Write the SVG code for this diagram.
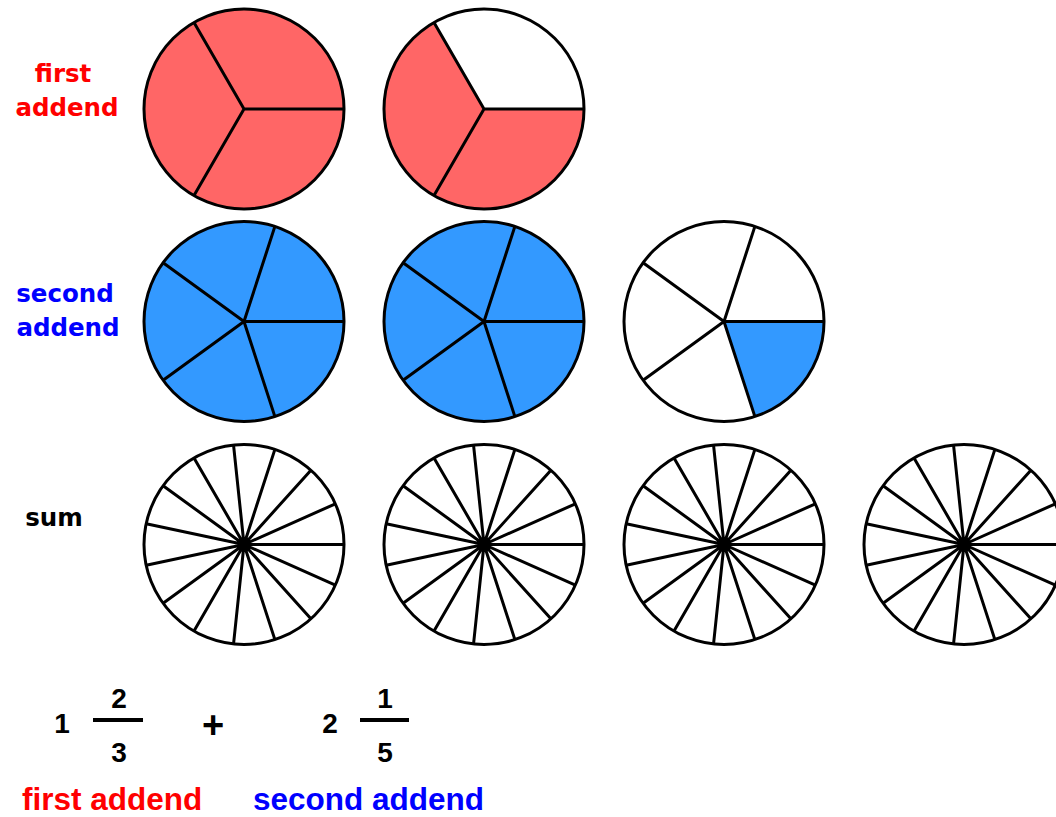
<svg xmlns="http://www.w3.org/2000/svg" xmlns:xlink="http://www.w3.org/1999/xlink" width="1056" height="817" viewBox="0 0 1056 817">
<style>
.rim{stroke:#000;stroke-width:3}
.sp{stroke:#000;stroke-width:3;fill:none;stroke-linecap:butt}
.lbl{font-family:"DejaVu Sans",Verdana,sans-serif;font-weight:bold;font-size:24.5px;text-anchor:middle}
.num{font-family:"Liberation Sans",Arial,sans-serif;font-weight:bold;font-size:28px;text-anchor:middle;fill:#000}
.plus{font-family:"Liberation Sans",Arial,sans-serif;font-weight:bold;font-size:38px;text-anchor:middle;fill:#000}
.cap{font-family:"Liberation Sans",Arial,sans-serif;font-weight:bold;font-size:31.5px}
.red{fill:#FF0000}
.blue{fill:#0000FF}
</style>
<defs>
<g id="thirds">
<path class="sp" d="M0,0 L100,0 M0,0 L-50,-86.6 M0,0 L-50,86.6"/>
</g>
<g id="fifths">
<path class="sp" d="M0,0 L100,0 M0,0 L30.9,-95.11 M0,0 L-80.9,-58.78 M0,0 L-80.9,58.78 M0,0 L30.9,95.11"/>
</g>
<g id="fifteenths">
<path class="sp" d="M0,0 L100,0 M0,0 L91.35,-40.67 M0,0 L66.91,-74.31 M0,0 L30.9,-95.11 M0,0 L-10.45,-99.45 M0,0 L-50,-86.6 M0,0 L-80.9,-58.78 M0,0 L-97.81,-20.79 M0,0 L-97.81,20.79 M0,0 L-80.9,58.78 M0,0 L-50,86.6 M0,0 L-10.45,99.45 M0,0 L30.9,95.11 M0,0 L66.91,74.31 M0,0 L91.35,40.67"/>
</g>
</defs>

<g id="labels">
<text class="lbl red" x="63" y="82">first</text>
<text class="lbl red" x="67" y="116">addend</text>
<text class="lbl blue" x="65" y="302">second</text>
<text class="lbl blue" x="68" y="336">addend</text>
<text class="lbl" x="54" y="526" fill="#000">sum</text>
</g>

<g id="first-1" transform="translate(244,109)">
<circle r="100" fill="#FF6666" class="rim"/>
<use xlink:href="#thirds"/>
</g>
<g id="first-2" transform="translate(484,109)">
<circle r="100" fill="#FF6666"/>
<path d="M0,0 L100,0 A100,100 0 0 0 -50,-86.6 Z" fill="#FFFFFF"/>
<circle r="100" fill="none" class="rim"/>
<use xlink:href="#thirds"/>
</g>

<g id="second-1" transform="translate(244,321.5)">
<circle r="100" fill="#3399FF" class="rim"/>
<use xlink:href="#fifths"/>
</g>
<g id="second-2" transform="translate(484,321.5)">
<circle r="100" fill="#3399FF" class="rim"/>
<use xlink:href="#fifths"/>
</g>
<g id="second-3" transform="translate(724,321.5)">
<circle r="100" fill="#FFFFFF"/>
<path d="M0,0 L100,0 A100,100 0 0 1 30.9,95.11 Z" fill="#3399FF"/>
<circle r="100" fill="none" class="rim"/>
<use xlink:href="#fifths"/>
</g>

<g id="sum-1" transform="translate(244,544.5)">
<circle r="100" fill="#FFFFFF" class="rim"/>
<use xlink:href="#fifteenths"/>
</g>
<g id="sum-2" transform="translate(484,544.5)">
<circle r="100" fill="#FFFFFF" class="rim"/>
<use xlink:href="#fifteenths"/>
</g>
<g id="sum-3" transform="translate(724,544.5)">
<circle r="100" fill="#FFFFFF" class="rim"/>
<use xlink:href="#fifteenths"/>
</g>
<g id="sum-4" transform="translate(964,544.5)">
<circle r="100" fill="#FFFFFF" class="rim"/>
<use xlink:href="#fifteenths"/>
</g>

<g id="equation">
<text class="num" x="62" y="733">1</text>
<text class="num" x="119" y="708">2</text>
<line x1="93" y1="720" x2="143" y2="720" stroke="#000" stroke-width="4"/>
<text class="num" x="119" y="762">3</text>
<text class="plus" x="213" y="738">+</text>
<text class="num" x="330" y="733">2</text>
<text class="num" x="385" y="708">1</text>
<line x1="360" y1="720" x2="409" y2="720" stroke="#000" stroke-width="4"/>
<text class="num" x="385" y="762">5</text>
</g>

<g id="captions">
<text class="cap red" x="22" y="810">first addend</text>
<text class="cap blue" x="253" y="810">second addend</text>
</g>
</svg>
